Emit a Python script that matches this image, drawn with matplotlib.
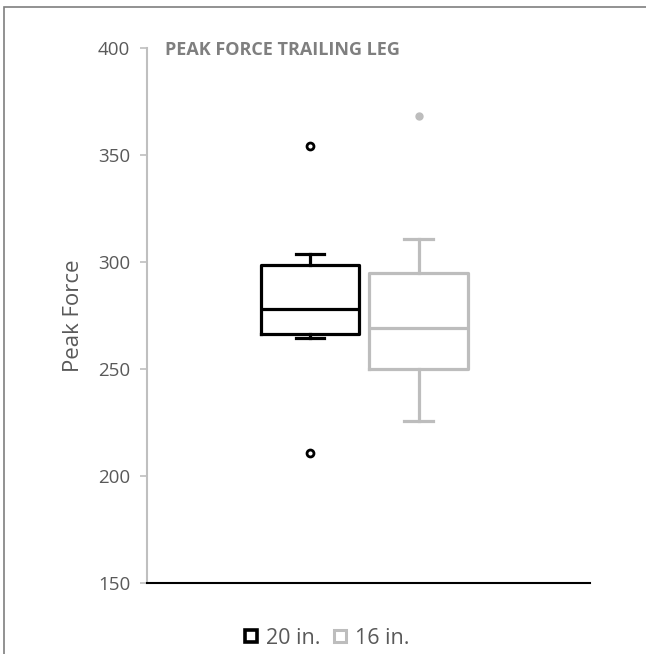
import matplotlib
matplotlib.use("Agg")
import matplotlib.pyplot as plt
from matplotlib.lines import Line2D
from matplotlib.patches import Rectangle

# Data
series = ["20 in.", "16 in."]
q1 = [266.4, 249.9]
median = [278.0, 269.2]
q3 = [298.6, 294.7]
whisker_low = [264.5, 225.7]
whisker_high = [303.7, 310.9]
fliers = [[354.2, 210.7], [368.2]]
yticks = [150, 200, 250, 300, 350, 400]

colors = ["#000000", "#bdbdbd"]
positions = [0.368, 0.613]

plt.rcParams['font.family'] = ['Open Sans', 'DejaVu Sans']

fig = plt.figure(figsize=(6.46, 6.54), dpi=100)
ax = fig.add_axes([147/646, 1-583/654, (590-147)/646, (583-48)/654])

for i in range(len(series)):
    stats = [dict(med=median[i], q1=q1[i], q3=q3[i], whislo=whisker_low[i],
                  whishi=whisker_high[i], fliers=fliers[i], label=series[i])]
    c = colors[i]
    ax.bxp(stats, positions=[positions[i]], widths=0.223, showfliers=True,
           patch_artist=False,
           boxprops=dict(color=c, linewidth=2.3),
           medianprops=dict(color=c, linewidth=2.3),
           whiskerprops=dict(color=c, linewidth=2.3),
           capprops=dict(color=c, linewidth=2.3),
           capwidths=0.064,
           flierprops=dict(marker='o', markersize=5, markerfacecolor='white' if i == 0 else c,
                           markeredgecolor=c, markeredgewidth=2 if i == 0 else 1))

ax.set_xlim(0, 1)
ax.set_ylim(150, 400)
ax.set_yticks(yticks)
ax.set_yticklabels([str(t) for t in yticks], color="#595959", fontsize=13.5)
ax.set_xticks([])
for s in ["top", "right"]:
    ax.spines[s].set_visible(False)
ax.spines["left"].set_color("#bfbfbf")
ax.spines["left"].set_linewidth(1.5)
ax.spines["bottom"].set_color("#000000")
ax.spines["bottom"].set_linewidth(1.5)
ax.tick_params(axis='y', direction='out', length=5, width=1.2, color="#bfbfbf", pad=7)

ax.set_ylabel("Peak Force", color="#595959", fontsize=16, labelpad=10)

fig.text(165/646, 1-50/654, "PEAK FORCE TRAILING LEG", fontsize=13, fontweight='bold',
         color="#7f7f7f", ha='left', va='center')

handles = [Line2D([], [], marker='s', linestyle='none', markersize=9,
                  markerfacecolor='white', markeredgecolor=colors[i],
                  markeredgewidth=2.6 if i == 0 else 2.2)
           for i in range(len(series))]
fig.legend(handles, series, loc='center', bbox_to_anchor=(326/646, 1-638/654), ncol=2,
           frameon=False, fontsize=15.5, handletextpad=0.3, columnspacing=0.5,
           labelcolor="#595959", handlelength=0.8)

fig.add_artist(Rectangle((4/646, -0.1), 1.2, 1.1-7/654, transform=fig.transFigure,
                         fill=False, edgecolor="#7f7f7f", linewidth=1.2))

fig.savefig("out.png", dpi=100)
